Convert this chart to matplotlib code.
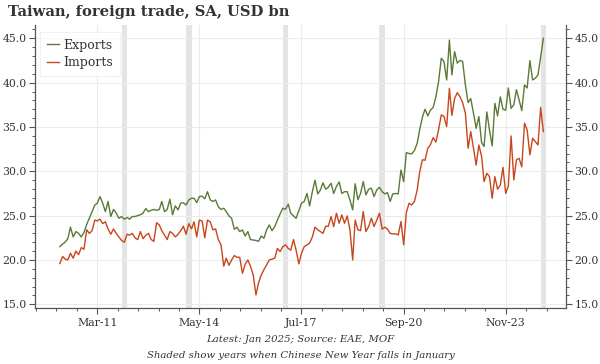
import numpy as np
import pandas as pd
import matplotlib
matplotlib.use('Agg')
import matplotlib.pyplot as plt
import matplotlib.dates as mdates
from matplotlib.ticker import FixedLocator, MultipleLocator, FormatStrFormatter

# monthly data, Jan 2010 - Jan 2025, USD bn (SA)
months = pd.date_range('2010-01-01', '2025-01-01', freq='MS')

exports = [21.5, 21.8, 22.0, 22.4, 23.7, 22.6, 23.2, 23.0, 22.6, 23.1,
           24.0, 24.7, 25.45, 26.2, 26.4, 27.15, 26.4, 25.45, 26.6, 24.9,
           25.7, 25.3, 24.7, 24.9, 24.6, 24.8, 24.6, 24.9, 24.9, 25.0,
           25.1, 25.3, 25.8, 25.45, 25.6, 25.7, 25.6, 25.7, 26.6, 25.45,
           25.7, 26.85, 25.1, 26.1, 25.65, 26.4, 26.45, 26.2, 26.77, 26.96,
           26.96, 26.47, 27.15, 27.2, 26.9, 27.7, 26.77, 26.6, 26.77, 26.0,
           25.7, 25.83, 25.46, 24.97, 24.7, 23.46, 23.69, 23.2, 23.39, 22.7,
           23.2, 22.3, 22.25, 22.2, 22.1, 22.7, 22.45, 23.4, 23.95, 23.3,
           23.77, 24.5, 25.2, 25.83, 25.72, 26.3, 25.27, 24.97, 24.7, 25.57,
           26.4, 26.6, 27.5, 26.1, 27.7, 29.0, 27.45, 27.9, 28.7, 27.98,
           28.2, 28.65, 27.5, 28.3, 28.8, 27.5, 27.7, 27.7, 26.77, 25.65,
           28.6, 26.8, 27.5, 28.84, 27.34, 27.98, 28.1, 27.15, 27.9, 28.2,
           27.7, 27.45, 27.6, 26.6, 27.45, 27.5, 27.45, 30.15, 28.84, 32.1,
           32.0, 31.96, 32.35, 33.16, 34.67, 36.1, 37.0, 36.25, 36.9, 37.2,
           38.4, 40.1, 42.75, 42.4, 40.3, 44.8, 40.87, 43.5, 42.2, 42.5,
           42.4, 39.74, 37.75, 38.2, 36.55, 34.85, 36.17, 33.24, 32.8, 36.7,
           34.67, 32.86, 37.67, 36.25, 38.4, 37.0, 36.9, 39.4, 37.1, 37.5,
           39.2, 38.05, 36.85, 39.74, 39.4, 42.48, 40.3, 40.5, 40.87, 42.93,
           45.0]

imports = [19.6, 20.4, 20.1, 20.0, 20.75, 20.2, 21.0, 20.6, 21.4, 21.2,
           23.4, 23.0, 23.3, 24.5, 24.4, 24.6, 24.1, 24.3, 23.5, 22.9,
           23.5, 23.0, 22.6, 22.2, 22.0, 22.9, 22.8, 23.0, 22.5, 22.3,
           23.2, 22.4, 22.8, 23.0, 22.3, 22.1, 24.2, 23.95, 23.3, 22.8,
           22.3, 23.2, 23.0, 22.6, 22.9, 23.3, 23.8, 22.9, 24.1, 23.5,
           24.3, 22.6, 24.5, 24.4, 22.5, 24.5, 24.3, 23.4, 23.5, 22.3,
           21.7, 19.3, 20.2, 19.4, 20.0, 20.5, 20.3, 20.3, 18.5, 19.5,
           20.0, 19.3, 18.3, 16.06, 17.4, 18.3, 18.9, 19.45, 20.0, 20.1,
           20.2, 21.3, 20.95, 21.5, 21.7, 21.3, 21.1, 22.3, 21.1, 19.56,
           20.76, 21.5, 21.7, 21.9, 22.6, 23.7, 23.4, 23.2, 23.0, 23.8,
           23.8, 24.9, 23.76, 25.27, 24.14, 25.08, 24.14, 24.97, 23.4, 20.0,
           24.5, 23.4, 23.3, 25.46, 23.2, 23.77, 24.7, 23.77, 24.5, 25.27,
           23.47, 23.7, 23.47, 23.0, 22.94, 22.94, 22.83, 24.33, 21.7, 25.35,
           26.4, 26.2, 26.6, 27.9, 29.9, 31.3, 31.25, 32.6, 33.0, 33.8,
           33.3, 34.67, 36.36, 36.2, 35.04, 39.36, 36.3, 38.2, 38.87, 38.4,
           37.75, 36.55, 32.6, 34.48, 32.6, 30.7, 32.97, 31.66, 28.84, 29.78,
           29.4, 26.96, 29.4, 27.98, 28.46, 30.45, 27.5, 28.35, 33.99, 29.03,
           31.28, 31.47, 30.5, 35.42, 34.67, 31.85, 33.73, 33.35, 32.97, 37.2,
           34.48]

# years when Chinese New Year falls in January (as shaded in the source)
cny_january_years = [2012, 2014, 2017, 2020, 2025]

tick_dates = ['2011-03-01', '2014-05-01', '2017-07-01', '2020-09-01', '2023-11-01']

green = '#5a7a38'
orange = '#c8461c'
text_col = '#333333'

plt.rcParams['font.family'] = 'DejaVu Serif'

fig = plt.figure(figsize=(6, 3.64), dpi=100)
ax = fig.add_axes([0.0583, 0.1538, 0.885, 0.7775])

for yr in cny_january_years:
    ax.axvspan(pd.Timestamp(yr - 1, 12, 1), pd.Timestamp(yr, 2, 1),
               color='#e4e4e4', lw=0, zorder=0)

ax.plot(months, exports, color=green, lw=1.0, label='Exports', zorder=3)
ax.plot(months, imports, color=orange, lw=1.0, label='Imports', zorder=3)

# x axis: major every 38 months, 5 minor steps between
major = mdates.date2num(pd.to_datetime(tick_dates))
step = np.diff(major).mean() / 5
minor = np.arange(major[0] - 3 * step, major[-1] + 3.5 * step, step)
ax.xaxis.set_major_locator(FixedLocator(major))
ax.xaxis.set_minor_locator(FixedLocator(minor))
ax.xaxis.set_major_formatter(mdates.DateFormatter('%b-%y'))
ax.set_xlim(mdates.date2num(pd.Timestamp('2009-03-25')),
            mdates.date2num(pd.Timestamp('2025-09-14')))

ax.set_ylim(14.58, 46.5)
ax.yaxis.set_major_locator(MultipleLocator(5))
ax.yaxis.set_minor_locator(MultipleLocator(1))
ax.yaxis.set_major_formatter(FormatStrFormatter('%.1f'))

ax.grid(True, which='major', color='#ebebeb', lw=0.8, zorder=0)
ax.set_axisbelow(True)

for s in ['left', 'right', 'bottom']:
    ax.spines[s].set_color('#555555')
    ax.spines[s].set_linewidth(0.9)
ax.spines['top'].set_visible(False)

ax.tick_params(axis='both', which='major', length=4, width=0.8, color='#555555',
               labelsize=7.8, labelcolor=text_col)
ax.tick_params(axis='both', which='minor', length=2.2, width=0.7, color='#555555')
ax.tick_params(axis='y', which='both', right=True, labelright=True, pad=2)
ax.tick_params(axis='x', pad=3)

leg = ax.legend(loc='upper left', bbox_to_anchor=(0.0094, 0.976), borderaxespad=0,
                fontsize=9, handlelength=1.0, handletextpad=0.3, labelspacing=0.35,
                frameon=True, fancybox=False, borderpad=0.55)
leg.get_frame().set_edgecolor('#eeeeee')
leg.get_frame().set_linewidth(0.8)
for t in leg.get_texts():
    t.set_color(text_col)

fig.text(0.013, 0.985, 'Taiwan, foreign trade, SA, USD bn', fontsize=10.6,
         fontweight='bold', color=text_col, va='top', ha='left')

fig.text(0.501, 0.066, 'Latest: Jan 2025; Source: EAE, MOF', fontsize=7.3,
         style='italic', color=text_col, ha='center', va='center')
fig.text(0.501, 0.024, 'Shaded show years when Chinese New Year falls in January',
         fontsize=7.3, style='italic', color=text_col, ha='center', va='center')

fig.savefig('out.png', dpi=100)
